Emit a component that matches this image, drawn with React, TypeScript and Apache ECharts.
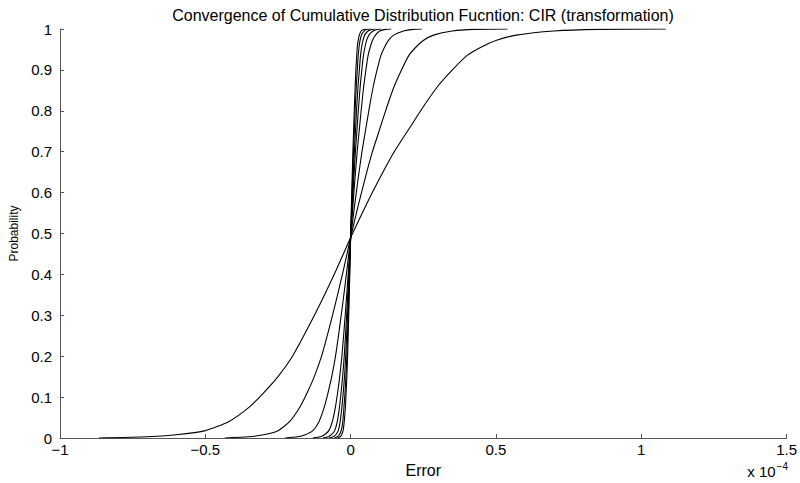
import React, { useEffect, useRef } from "react";
import * as echarts from "echarts";

// Probability levels at which each curve's error quantiles were read
const probLevels = [0, 0.003, 0.008, 0.018, 0.04, 0.075, 0.11, 0.15, 0.2, 0.265, 0.335, 0.41, 0.49, 0.565, 0.635, 0.7, 0.755, 0.81, 0.86, 0.9, 0.935, 0.956, 0.972, 0.985, 0.995, 0.999, 1];

// Error quantiles (units of 1e-4) for each curve, widest first
const errors1 = [-0.866, -0.7, -0.6, -0.5, -0.42, -0.35, -0.3, -0.25, -0.2, -0.15, -0.1, -0.05, 0, 0.05, 0.1, 0.15, 0.2, 0.25, 0.3, 0.35, 0.4, 0.45, 0.5, 0.57, 0.7, 0.85, 1.085];
const errors2 = [-0.433, -0.35, -0.3, -0.25, -0.21, -0.175, -0.15, -0.125, -0.1, -0.075, -0.05, -0.025, 0, 0.025, 0.05, 0.075, 0.1, 0.125, 0.15, 0.175, 0.2, 0.225, 0.25, 0.285, 0.35, 0.425, 0.54];
const errors3 = [-0.225, -0.182, -0.156, -0.13, -0.109, -0.091, -0.078, -0.065, -0.052, -0.039, -0.026, -0.013, 0, 0.013, 0.026, 0.039, 0.052, 0.065, 0.078, 0.091, 0.104, 0.117, 0.13, 0.148, 0.182, 0.215, 0.245];
const errors4 = [-0.13, -0.105, -0.09, -0.075, -0.063, -0.0525, -0.045, -0.0375, -0.03, -0.0225, -0.015, -0.0075, 0, 0.0075, 0.015, 0.0225, 0.03, 0.0375, 0.045, 0.0525, 0.06, 0.0675, 0.075, 0.0855, 0.1, 0.12, 0.14];
const errors5 = [-0.095, -0.077, -0.066, -0.055, -0.046, -0.0385, -0.033, -0.0275, -0.022, -0.0165, -0.011, -0.0055, 0, 0.0055, 0.011, 0.0165, 0.022, 0.0275, 0.033, 0.0385, 0.044, 0.0495, 0.055, 0.063, 0.077, 0.092, 0.105];
const errors6 = [-0.074, -0.06, -0.051, -0.0425, -0.036, -0.03, -0.0255, -0.021, -0.017, -0.0128, -0.0085, -0.0043, 0, 0.0043, 0.0085, 0.0128, 0.017, 0.021, 0.0255, 0.03, 0.034, 0.038, 0.0425, 0.048, 0.06, 0.072, 0.085];
const errors7 = [-0.056, -0.046, -0.039, -0.0325, -0.027, -0.023, -0.0195, -0.016, -0.013, -0.0098, -0.0065, -0.0033, 0, 0.0033, 0.0065, 0.0098, 0.013, 0.016, 0.0195, 0.023, 0.026, 0.029, 0.0325, 0.037, 0.046, 0.055, 0.07];
const errors8 = [-0.045, -0.036, -0.031, -0.026, -0.022, -0.018, -0.0156, -0.013, -0.0104, -0.0078, -0.0052, -0.0026, 0, 0.0026, 0.0052, 0.0078, 0.0104, 0.013, 0.0156, 0.018, 0.021, 0.023, 0.026, 0.03, 0.036, 0.044, 0.056];

const curves = [errors1, errors2, errors3, errors4, errors5, errors6, errors7, errors8];

const titleText = "Convergence of Cumulative Distribution Fucntion: CIR (transformation)";
const xName = "Error";
const yName = "Probability";

const FONT = "'Liberation Sans', Arial, Helvetica, sans-serif";

export default function App() {
  const ref = useRef<HTMLDivElement>(null);
  useEffect(() => {
    document.body.style.margin = "0";
    const chart = echarts.init(ref.current!, null, { renderer: "svg" });
    const fmtX = (v: number) => {
      const s = String(+v.toFixed(2));
      return s.replace("-", "\u2212");
    };
    chart.setOption({
      animation: false,
      backgroundColor: "#fff",
      textStyle: { fontFamily: FONT },
      grid: { left: 58, right: 12, top: 29, bottom: 41, containLabel: false },
      xAxis: {
        type: "value",
        min: -1,
        max: 1.5,
        interval: 0.5,
        name: xName,
        nameLocation: "middle",
        nameGap: 24,
        nameTextStyle: { fontFamily: FONT, fontSize: 16, color: "#000" },
        axisLine: { onZero: false, lineStyle: { color: "#555", width: 1 } },
        axisTick: { inside: true, length: 4, lineStyle: { color: "#555" } },
        axisLabel: { fontFamily: FONT, fontSize: 15, color: "#000", margin: 4, formatter: fmtX },
        splitLine: { show: false },
      },
      yAxis: {
        type: "value",
        min: 0,
        max: 1,
        interval: 0.1,
        name: yName,
        nameLocation: "middle",
        nameGap: 40,
        nameRotate: 90,
        nameTextStyle: { fontFamily: FONT, fontSize: 12, color: "#000" },
        axisLine: { show: true, onZero: false, lineStyle: { color: "#555", width: 1 } },
        axisTick: { show: true, inside: true, length: 4, lineStyle: { color: "#555" } },
        axisLabel: { fontFamily: FONT, fontSize: 15, color: "#000", margin: 8, formatter: (v: number) => String(+v.toFixed(1)) },
        splitLine: { show: false },
      },
      graphic: [
        {
          type: "text",
          x: 423,
          y: 15,
          style: {
            text: titleText,
            fontFamily: FONT,
            fontSize: 16,
            fill: "#000",
            align: "center",
            verticalAlign: "middle",
          },
        },
        {
          type: "text",
          right: 12,
          top: 461,
          style: {
            text: "{a|x 10}{b|\u22124}",
            rich: {
              a: { fontFamily: FONT, fontSize: 15, fill: "#000", verticalAlign: "bottom", lineHeight: 18 },
              b: { fontFamily: FONT, fontSize: 10, fill: "#000", verticalAlign: "top", lineHeight: 18, padding: [0, 0, 9, 1] },
            },
          },
        },
      ],
      series: curves.map((xs, i) => ({
        type: "line",
        name: "curve" + (i + 1),
        data: xs.map((x, j) => [x, probLevels[j]]),
        showSymbol: false,
        smooth: 0.2,
        lineStyle: { color: "#000", width: 1.1 },
        silent: true,
        z: 3,
      })),
    });
    return () => chart.dispose();
  }, []);
  return <div ref={ref} style={{ position: "absolute", left: 0, top: 0, width: 800, height: 483 }} />;
}
